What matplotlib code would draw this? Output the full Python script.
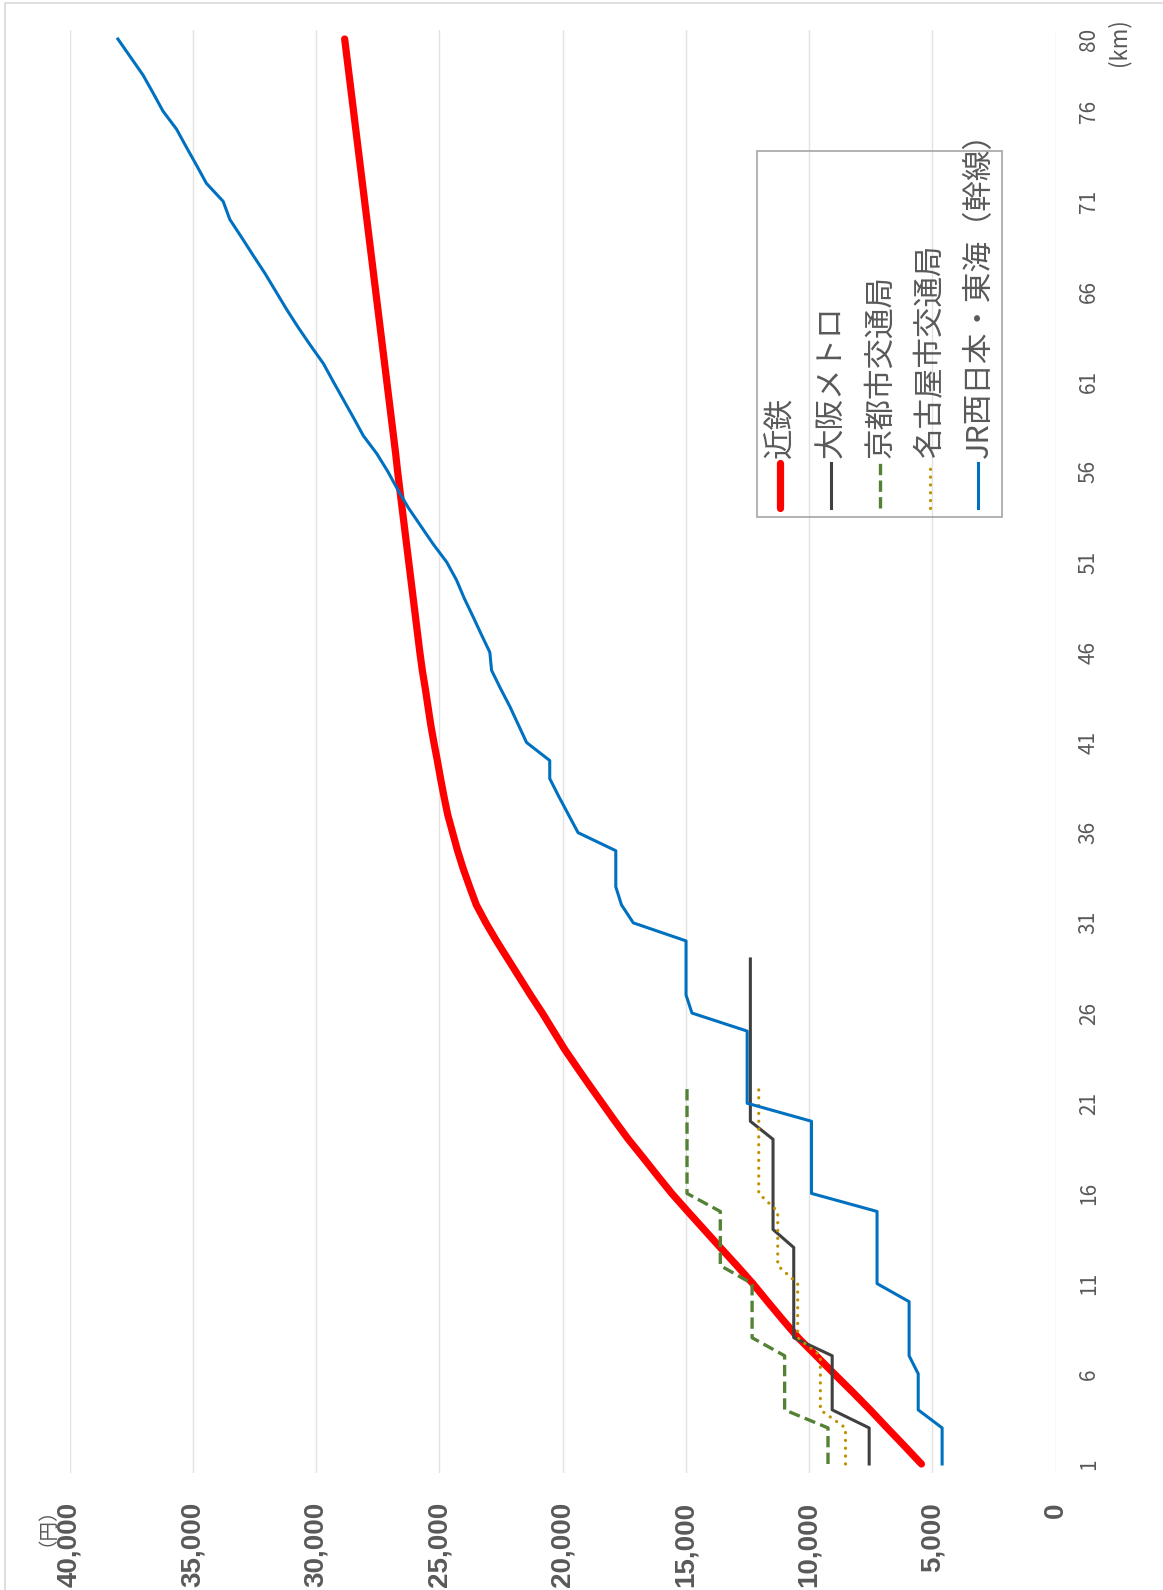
import matplotlib
matplotlib.use("Agg")
import matplotlib.pyplot as plt
from matplotlib.lines import Line2D
from matplotlib.patches import Rectangle

# fares (yen) by distance (km); the chart is drawn turned 90 degrees
km = list(range(1, 81))
km_ticks = [1, 6, 11, 16, 21, 26, 31, 36, 41, 46, 51, 56, 61, 66, 71, 76, 80]
yen_ticks = [0, 5000, 10000, 15000, 20000, 25000, 30000, 35000, 40000]

kintetsu = [5440, 6130, 6830, 7520, 8240, 8980, 9710, 10440, 11070, 11680,
            12280, 12930, 13600, 14260, 14920, 15570, 16160, 16740, 17330, 17870,
            18390, 18910, 19420, 19920, 20370, 20820, 21300, 21760, 22220, 22680,
            23110, 23500, 23770, 24030, 24260, 24460, 24660, 24810, 24950, 25080,
            25220, 25350, 25460, 25570, 25690, 25790, 25880, 25970, 26060, 26150,
            26240, 26330, 26420, 26510, 26600, 26690, 26770, 26860, 26950, 27040,
            27130, 27220, 27310, 27400, 27490, 27580, 27670, 27760, 27850, 27940,
            28030, 28120, 28210, 28300, 28390, 28480, 28570, 28660, 28750, 28840]
osaka_metro = [7560, 7560, 7560, 9060, 9060, 9060, 9060, 10620, 10620, 10620,
               10620, 10620, 10620, 11460, 11460, 11460, 11460, 11460, 11460, 12380,
               12380, 12380, 12380, 12380, 12380, 12380, 12380, 12380, 12380]
kyoto = [9230, 9230, 9230, 10990, 10990, 10990, 10990, 12310, 12310, 12310,
         12310, 13600, 13600, 13600, 13600, 14950, 14950, 14950, 14950, 14950,
         14950, 14950]
nagoya = [8520, 8520, 8520, 9540, 9540, 9540, 9540, 10460, 10460, 10460,
          10460, 11270, 11270, 11270, 11270, 12040, 12040, 12040, 12040, 12040,
          12040, 12040]
jr = [4600, 4600, 4600, 5570, 5570, 5570, 5940, 5940, 5940, 5940,
      7240, 7240, 7240, 7240, 7240, 9900, 9900, 9900, 9900, 9900,
      12510, 12510, 12510, 12510, 12510, 14750, 14990, 14990, 14990, 14990,
      17130, 17610, 17840, 17840, 17840, 19370, 19760, 20150, 20520, 20520,
      21460, 21800, 22140, 22520, 22880, 22950, 23300, 23640, 23990, 24300,
      24700, 25250, 25750, 26250, 26680, 27080, 27530, 28080, 28480, 28890,
      29300, 29700, 30220, 30720, 31190, 31630, 32070, 32550, 33020, 33500,
      33770, 34450, 34850, 35260, 35660, 36210, 36610, 37020, 37530, 38040]

names = ["近鉄", "大阪メトロ", "京都市交通局", "名古屋市交通局", "JR西日本・東海（幹線）"]
series = [kintetsu, osaka_metro, kyoto, nagoya, jr]
styles = [
    dict(color="#ff0000", lw=5.2, solid_capstyle="round"),
    dict(color="#404040", lw=2.2),
    dict(color="#548235", lw=2.4, linestyle=(0, (3.4, 1.6))),
    dict(color="#bf9000", lw=2.3, linestyle=(0, (0.05, 2.4)), dash_capstyle="round"),
    dict(color="#0070c0", lw=2.2),
]

W, H = 1163, 1590
fig = plt.figure(figsize=(W / 100, H / 100), dpi=100)
grey = "#595959"
cjk = ["Noto Sans CJK JP", "DejaVu Sans"]


def fx(x):
    return x / W


def fy(y):
    return 1 - y / H


# chart border
fig.patches.append(Rectangle((fx(5), fy(1600)), fx(1170) - fx(5), fy(3) - fy(1600),
                             transform=fig.transFigure, fill=False,
                             edgecolor="#d9d9d9", lw=1.2))

ax = fig.add_axes([fx(69.6), fy(1473), fx(1055.5) - fx(69.6), fy(30) - fy(1473)])
for vals, st in zip(series, styles):
    ax.plot(vals, km[:len(vals)], **st)

ax.set_xlim(40000, 0)
ax.set_ylim(0.5, 80.5)
for s in ax.spines.values():
    s.set_visible(False)
ax.grid(axis="x", color="#e2e2e2", lw=1.0)
ax.set_axisbelow(True)

ax.set_xticks(yen_ticks)
ax.set_xticklabels([f"{v:,}" for v in yen_ticks], rotation=90,
                   fontsize=20, fontweight="bold", color=grey,
                   family=["Liberation Sans", "DejaVu Sans"])
ax.tick_params(axis="x", length=0, pad=21)

ax.yaxis.tick_right()
ax.set_yticks(km_ticks)
ax.set_yticklabels([str(k) for k in km_ticks], rotation=90, va="center",
                   fontsize=15, color=grey, family=cjk)
ax.tick_params(axis="y", length=0, pad=16)

fig.text(fx(1119), fy(42), "(km)", rotation=90, ha="center", va="center",
         fontsize=16, color=grey, family=cjk)
fig.text(fx(37), fy(1488), "（円）", rotation=90, ha="center", va="top",
         fontsize=14, color=grey, family=cjk)

# legend drawn by hand, turned like the chart
fig.patches.append(Rectangle((fx(757), fy(517)), fx(1002) - fx(757), fy(151) - fy(517),
                             transform=fig.transFigure, fill=False,
                             edgecolor="#a6a6a6", lw=1.2))
leg_x = [780, 831, 880, 930, 978]
for x, name, st in zip(leg_x, names, styles):
    fig.add_artist(Line2D([fx(x), fx(x)], [fy(508), fy(463)],
                          transform=fig.transFigure, **st))
    fig.text(fx(x + 1), fy(458), name, rotation=90, ha="center", va="bottom",
             fontsize=22, color=grey, family=cjk)

fig.savefig("out.png", dpi=100)
